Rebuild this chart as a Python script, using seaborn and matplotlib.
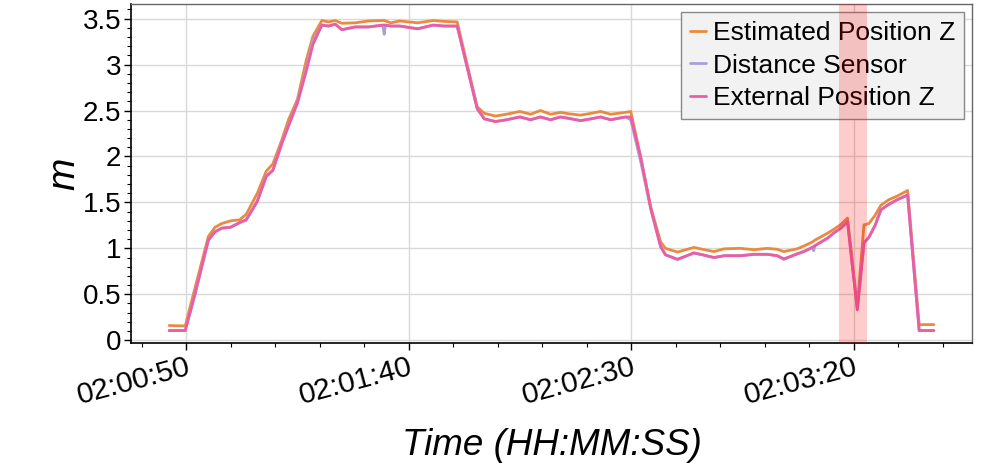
import pandas as pd
import seaborn as sns
import matplotlib.pyplot as plt
from matplotlib.ticker import MultipleLocator, FuncFormatter

# ---------------- tempo (segundos depois de 02:00:00) ---------------- #
t_sec = [46.2, 49.8, 52.0, 55.0, 56.5, 58.0, 60.0, 62.0, 63.5, 66.0, 68.0, 69.5, 71.5, 73.0, 75.0, 77.0, 78.5, 80.5,
         82.0, 83.5, 85.0, 88.0, 91.0, 94.2, 94.5, 94.8, 96.0, 98.0, 102.0, 105.5, 108.0, 110.9,
         115.4, 117.0, 119.5, 122.0, 125.0, 127.4, 129.6, 131.9, 134.1, 136.0, 138.6, 141.0, 143.1, 145.4, 148.7, 149.9,
         152.1, 154.4, 156.6, 157.7, 160.4, 164.1, 166.0, 168.6, 170.9, 174.6, 177.6, 180.6, 182.8, 184.3, 187.3, 189.0,
         190.7, 191.0, 191.3, 194.1, 195.6, 197.1, 198.6, 199.6, 200.8, 202.3, 203.4, 204.8, 206.1, 207.9, 209.8, 212.1, 214.7, 218.0]

estimated_z = [0.16, 0.155, 0.57, 1.13, 1.23, 1.27, 1.30, 1.31, 1.37, 1.60, 1.84, 1.92, 2.18, 2.40, 2.62, 3.05, 3.31, 3.48,
               3.465, 3.48, 3.45, 3.455, 3.475, 3.48, 3.48, 3.475, 3.455, 3.475, 3.455, 3.48, 3.47, 3.465,
               2.54, 2.47, 2.44, 2.46, 2.49, 2.46, 2.50, 2.46, 2.48, 2.465, 2.45, 2.47, 2.49, 2.46, 2.48, 2.49,
               2.00, 1.45, 1.07, 1.00, 0.96, 1.01, 0.99, 0.965, 0.995, 1.00, 0.985, 1.00, 0.99, 0.965, 0.995, 1.03,
               1.07, 1.08, 1.09, 1.165, 1.21, 1.26, 1.33, 0.90, 0.37, 1.255, 1.27, 1.36, 1.47, 1.53, 1.57, 1.63, 0.17, 0.17]

distance_sensor = [0.105, 0.105, 0.51, 1.09, 1.18, 1.22, 1.23, 1.28, 1.31, 1.52, 1.79, 1.85, 2.15, 2.34, 2.59, 2.96, 3.26, 3.43,
                   3.42, 3.44, 3.38, 3.41, 3.41, 3.43, 3.33, 3.43, 3.42, 3.42, 3.39, 3.43, 3.42, 3.42,
                   2.52, 2.41, 2.38, 2.40, 2.43, 2.40, 2.43, 2.40, 2.43, 2.415, 2.39, 2.41, 2.43, 2.40, 2.43, 2.40,
                   1.95, 1.43, 1.02, 0.93, 0.88, 0.95, 0.93, 0.90, 0.92, 0.92, 0.935, 0.935, 0.92, 0.88, 0.94, 0.97,
                   1.01, 0.975, 1.03, 1.11, 1.17, 1.22, 1.29, 0.85, 0.34, 1.06, 1.12, 1.25, 1.42, 1.48, 1.53, 1.58, 0.105, 0.105]

external_z = [0.105, 0.105, 0.50, 1.09, 1.18, 1.22, 1.23, 1.28, 1.31, 1.51, 1.78, 1.85, 2.14, 2.33, 2.58, 2.93, 3.22, 3.43,
              3.42, 3.44, 3.38, 3.41, 3.41, 3.43, 3.43, 3.43, 3.42, 3.42, 3.39, 3.43, 3.42, 3.42,
              2.52, 2.41, 2.38, 2.40, 2.43, 2.40, 2.43, 2.40, 2.43, 2.415, 2.39, 2.41, 2.43, 2.40, 2.43, 2.43,
              2.00, 1.43, 1.02, 0.93, 0.88, 0.95, 0.93, 0.90, 0.92, 0.92, 0.935, 0.935, 0.92, 0.885, 0.94, 0.97,
              1.01, 1.02, 1.03, 1.11, 1.17, 1.22, 1.29, 0.85, 0.33, 1.06, 1.12, 1.25, 1.42, 1.48, 1.53, 1.58, 0.105, 0.105]

series_names = ['Estimated Position Z', 'Distance Sensor', 'External Position Z']
series_colors = ['#e98a3f', '#a7a2d6', '#eb5ea6']

# janela destacada (segundos depois de 02:00:00)
span_start, span_end = 196.7, 202.9
base_hour = 2

# ---------------- dataframe longo ---------------- #
df = pd.DataFrame({'t': t_sec,
                   series_names[0]: estimated_z,
                   series_names[1]: distance_sensor,
                   series_names[2]: external_z})
df = df.melt(id_vars='t', var_name='serie', value_name='z')

sns.set_style('whitegrid')
plt.rcParams['font.family'] = ['Liberation Sans', 'DejaVu Sans']
plt.rcParams['text.color'] = 'black'
plt.rcParams['axes.labelcolor'] = 'black'

fig, ax = plt.subplots(figsize=(9.96, 4.69), dpi=100)
fig.subplots_adjust(left=0.1315, right=0.976, top=0.9915, bottom=0.2687)

sns.lineplot(data=df, x='t', y='z', hue='serie', hue_order=series_names,
             palette=dict(zip(series_names, series_colors)), estimator=None,
             lw=2, ax=ax)

ax.set_ylim(-0.03, 3.66)


def hms(s, pos=None):
    s = int(round(s))
    return f'{base_hour + s // 3600:02d}:{(s % 3600) // 60:02d}:{s % 60:02d}'


ax.xaxis.set_major_locator(MultipleLocator(50))
ax.xaxis.set_minor_locator(MultipleLocator(10))
ax.xaxis.set_major_formatter(FuncFormatter(hms))
ax.yaxis.set_major_locator(MultipleLocator(0.5))
ax.yaxis.set_minor_locator(MultipleLocator(0.1))
ax.yaxis.set_major_formatter(FuncFormatter(lambda v, p: f'{v:g}'))

ax.tick_params(which='both', direction='out', bottom=True, left=True, colors='black')
ax.tick_params(axis='y', labelsize=20)
ax.tick_params(axis='x', labelsize=21.5)
ax.tick_params(which='major', length=5, width=1, pad=2)
ax.tick_params(which='minor', length=3, width=0.8)
plt.setp(ax.get_xticklabels(), rotation=15, ha='right', rotation_mode='anchor')

ax.grid(which='major', color='#d9d9d9', lw=1)
ax.grid(which='minor', visible=False)
for lado in ['left', 'bottom']:
    ax.spines[lado].set_color('black')
    ax.spines[lado].set_linewidth(1.2)
for lado in ['top', 'right']:
    ax.spines[lado].set_color('#666666')
    ax.spines[lado].set_linewidth(1)

ax.set_xlabel('Time (HH:MM:SS)', fontsize=26.5, style='italic', color='black')
ax.xaxis.set_label_coords(0.5, -0.252)
ax.set_ylabel('m', fontsize=28, style='italic', labelpad=0, color='black')

leg = ax.get_legend()
handles = leg.legend_handles
labels = [t.get_text() for t in leg.get_texts()]
ax.legend(handles, labels, loc='upper right', fontsize=19, frameon=True, fancybox=False,
          facecolor='#f2f2f2', edgecolor='#888888', framealpha=1,
          handlelength=0.6, handletextpad=0.25, labelspacing=0.32,
          borderaxespad=0.3, borderpad=0.35, labelcolor='black')

ax.axvspan(span_start, span_end, color='red', alpha=0.2, lw=0, zorder=6)

plt.savefig('out.png', dpi=100)
